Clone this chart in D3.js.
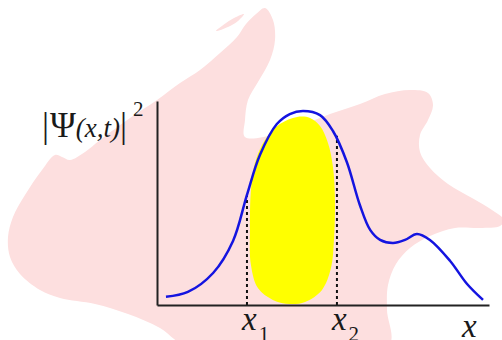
<!DOCTYPE html>
<html>
<head>
<meta charset="utf-8">
<script src="https://cdn.jsdelivr.net/npm/d3@7"></script>
<style>
  html, body { margin: 0; padding: 0; background: #fff; }
  svg { display: block; }
  text { font-family: "Liberation Serif", "Times New Roman", serif; fill: #1a1a1a; }
</style>
</head>
<body>
<svg id="chart" width="502" height="340"></svg>
<script>
// Probability density |Ψ(x,t)|² sampled along x
const curveX = [0.27, 0.93, 1.69, 2.29, 2.71, 3.10, 3.61, 4.00, 4.40, 4.91, 5.30, 5.72, 6.11, 6.42, 6.72, 7.11, 7.47, 7.83, 8.22, 8.83, 9.34, 9.82];
const curveY = [0.040, 0.064, 0.157, 0.314, 0.540, 0.735, 0.887, 0.936, 0.951, 0.931, 0.853, 0.700, 0.490, 0.368, 0.319, 0.304, 0.319, 0.348, 0.319, 0.216, 0.103, 0.025];

// Integration bounds x1, x2 and the density height at each
const boundX = [2.71, 5.42];
const boundY = [0.54, 0.83];
const boundSubscripts = ["1", "2"];

// Highlighted probability region between the bounds (outline)
const regionX = [4.22, 4.61, 4.91, 5.15, 5.30, 5.36, 5.33, 5.24, 4.97, 4.46, 4.01, 3.49, 3.04, 2.83, 2.80, 2.83, 2.95, 3.25, 3.70];
const regionY = [0.922, 0.917, 0.877, 0.794, 0.676, 0.515, 0.319, 0.181, 0.074, 0.015, 0.005, 0.025, 0.083, 0.196, 0.368, 0.564, 0.696, 0.809, 0.887];

// Decorative backdrop silhouette (sheet units)
const backdropX = [265, 273, 275, 270, 258, 248, 245, 245, 273, 300, 330, 360, 385, 410, 428, 433, 428, 420, 420, 430, 448, 472, 492, 504, 500, 480, 455, 430, 410, 396, 388, 387, 389, 290, 185, 160, 128, 95, 60, 40, 20, 10, 8, 13, 25, 42, 55, 62, 70, 85, 100, 130, 157, 180, 200, 220, 237, 246, 256];
const backdropY = [8, 20, 40, 60, 82, 100, 120, 137, 135, 126, 114, 104, 94, 90, 93, 105, 120, 135, 152, 168, 184, 198, 210, 220, 226, 228, 228, 236, 248, 264, 285, 310, 345, 350, 345, 328, 314, 304, 298, 290, 274, 257, 237, 217, 195, 170, 155, 157, 160, 152, 140, 118, 100, 83, 70, 53, 37, 24, 14];
const earX = [216, 226, 236, 244, 238, 228];
const earY = [31, 23, 17, 14, 21, 27];

const W = 502, H = 340;
const svg = d3.select("#chart");

// Backdrop
const bx = d3.scaleLinear().domain([0, 502]).range([0, W]);
const by = d3.scaleLinear().domain([0, 340]).range([0, H]);
const blob = d3.line().x(d => bx(d[0])).y(d => by(d[1])).curve(d3.curveCatmullRomClosed.alpha(0.5));
svg.append("path")
  .attr("d", blob(d3.zip(backdropX, backdropY)))
  .attr("fill", "#fddfdf");
svg.append("path")
  .attr("d", blob(d3.zip(earX, earY)))
  .attr("fill", "#fddfdf");

// Chart scales
const x = d3.scaleLinear().domain([0, 10]).range([157, 489]);
const y = d3.scaleLinear().domain([0, 1]).range([305, 101]);

// Highlighted region
const regionLine = d3.line().x(d => x(d[0])).y(d => y(d[1])).curve(d3.curveCatmullRomClosed.alpha(0.5));
svg.append("path")
  .attr("d", regionLine(d3.zip(regionX, regionY)))
  .attr("fill", "#ffff00");

// Bound markers
svg.selectAll("line.bound")
  .data(d3.zip(boundX, boundY))
  .join("line")
  .attr("class", "bound")
  .attr("x1", d => x(d[0])).attr("x2", d => x(d[0]))
  .attr("y1", y(0)).attr("y2", d => y(d[1]))
  .attr("stroke", "#111")
  .attr("stroke-width", 2)
  .attr("stroke-dasharray", "3,3");

// Axes
const xAxis = d3.axisBottom(x).tickValues([]).tickSizeOuter(0);
const yAxis = d3.axisLeft(y).tickValues([]).tickSizeOuter(0);
svg.append("g").attr("transform", `translate(0,${y(0)})`).call(xAxis)
  .select(".domain").attr("stroke", "#222").attr("stroke-width", 2);
svg.append("g").attr("transform", `translate(${x(0)},0)`).call(yAxis)
  .select(".domain").attr("stroke", "#222").attr("stroke-width", 2);

// Density curve
const curveLine = d3.line().x(d => x(d[0])).y(d => y(d[1])).curve(d3.curveCatmullRom.alpha(0.5));
svg.append("path")
  .attr("d", curveLine(d3.zip(curveX, curveY)))
  .attr("fill", "none")
  .attr("stroke", "#1414e0")
  .attr("stroke-width", 2.5);

// Bound labels x₁, x₂
boundX.forEach((bx0, i) => {
  const t = svg.append("text")
    .attr("x", x(bx0) - 5)
    .attr("y", 330)
    .attr("font-size", 33);
  t.append("tspan").attr("font-style", "italic").text("x");
  t.append("tspan").attr("font-size", 21).attr("dx", 2).attr("dy", 11).text(boundSubscripts[i]);
});

// Axis label x
svg.append("text")
  .attr("x", x(10) - 27)
  .attr("y", 337)
  .attr("font-size", 33)
  .attr("font-style", "italic")
  .text("x");

// Axis label |Ψ(x,t)|²
const yl = svg.append("text").attr("x", 42).attr("y", 137).attr("font-size", 35);
yl.append("tspan").text("|");
yl.append("tspan").attr("dx", 1).text("Ψ");
yl.append("tspan").attr("font-size", 27).attr("font-style", "italic").text("(x,t)");
yl.append("tspan").text("|");
yl.append("tspan").attr("font-size", 21).attr("dx", 6).attr("dy", -21).text("2");
</script>
</body>
</html>
